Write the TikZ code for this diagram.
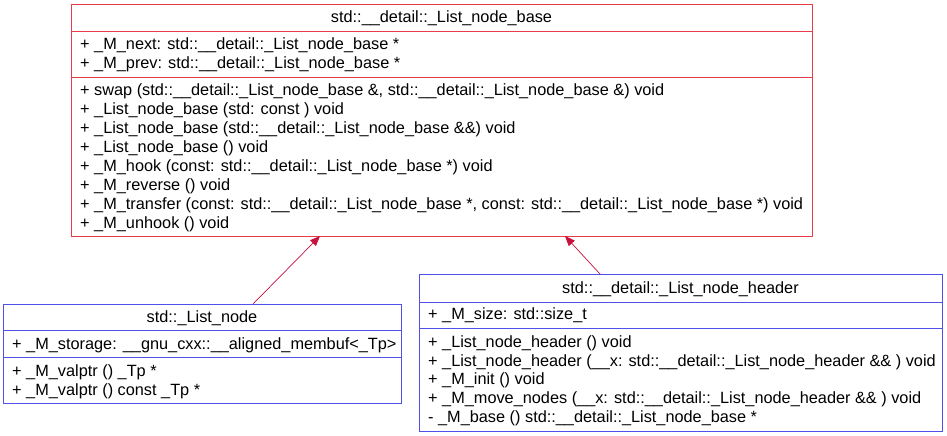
\documentclass[tikz,border=0pt]{standalone}
\usepackage{fontspec}
\setmainfont{Liberation Sans}
\usetikzlibrary{arrows.meta}
\definecolor{redline}{RGB}{232,60,72}
\definecolor{blueline}{RGB}{80,80,235}
\definecolor{arrowcol}{RGB}{200,16,60}
\tikzset{
  box/.style={draw, line width=1pt, anchor=north west, inner sep=0pt},
  redbox/.style={box, draw=redline},
  bluebox/.style={box, draw=blueline},
  txt/.style={anchor=base west, inner sep=0pt, font=\fontsize{16.3}{19}\selectfont},
  ttl/.style={anchor=base, inner sep=0pt, font=\fontsize{16.3}{19}\selectfont},
  inherit/.style={draw=arrowcol, line width=0.7pt, -{Triangle[length=10pt,width=8pt]}},
}
\begin{document}
\begin{tikzpicture}[x=1pt,y=-1pt]
\useasboundingbox (0,0) rectangle (947,436);
% top box
\node[redbox, minimum width=741pt, minimum height=232pt] (base) at (71,4) {};
\draw[redline, line width=1pt] (71,32) -- (812,32);
\draw[redline, line width=1pt] (71,77) -- (812,77);
\node[ttl] (bt) at (441.5,23) {std::\_\_detail::\_List\_node\_base};
\node[txt] (ba1) at (80,50) {+ \_M\_next: std::\_\_detail::\_List\_node\_base *};
\node[txt] (ba2) at (80,69) {+ \_M\_prev: std::\_\_detail::\_List\_node\_base *};
\node[txt] (bm1) at (80,95) {+ swap (std::\_\_detail::\_List\_node\_base \&, std::\_\_detail::\_List\_node\_base \&) void};
\node[txt] (bm2) at (80,114) {+ \_List\_node\_base (std: const ) void};
\node[txt] (bm3) at (80,133) {+ \_List\_node\_base (std::\_\_detail::\_List\_node\_base \&\&) void};
\node[txt] (bm4) at (80,152) {+ \_List\_node\_base () void};
\node[txt] (bm5) at (80,171) {+ \_M\_hook (const: std::\_\_detail::\_List\_node\_base *) void};
\node[txt] (bm6) at (80,190) {+ \_M\_reverse () void};
\node[txt] (bm7) at (80,209) {+ \_M\_transfer (const: std::\_\_detail::\_List\_node\_base *, const: std::\_\_detail::\_List\_node\_base *) void};
\node[txt] (bm8) at (80,228) {+ \_M\_unhook () void};
% left box
\node[bluebox, minimum width=398pt, minimum height=99pt] (node) at (3,304) {};
\draw[blueline, line width=1pt] (3,330) -- (401,330);
\draw[blueline, line width=1pt] (3,357) -- (401,357);
\node[ttl] (nt) at (202,322) {std::\_List\_node};
\node[txt] (na1) at (12,349) {+ \_M\_storage: \_\_gnu\_cxx::\_\_aligned\_membuf<\_Tp>};
\node[txt] (nm1) at (12,376) {+ \_M\_valptr () \_Tp *};
\node[txt] (nm2) at (12,395) {+ \_M\_valptr () const \_Tp *};
% right box
\node[bluebox, minimum width=523pt, minimum height=157pt] (hdr) at (419,274) {};
\draw[blueline, line width=1pt] (419,302) -- (942,302);
\draw[blueline, line width=1pt] (419,328) -- (942,328);
\node[ttl] (ht) at (680.5,293) {std::\_\_detail::\_List\_node\_header};
\node[txt] (ha1) at (428,319) {+ \_M\_size: std::size\_t};
\node[txt] (hm1) at (428,347) {+ \_List\_node\_header () void};
\node[txt] (hm2) at (428,366) {+ \_List\_node\_header (\_\_x: std::\_\_detail::\_List\_node\_header \&\& ) void};
\node[txt] (hm3) at (428,384.5) {+ \_M\_init () void};
\node[txt] (hm4) at (428,403) {+ \_M\_move\_nodes (\_\_x: std::\_\_detail::\_List\_node\_header \&\& ) void};
\node[txt] (hm5) at (428,422) {- \_M\_base () std::\_\_detail::\_List\_node\_base *};
% connectors
\coordinate (c1s) at (253,304);
\coordinate (c1e) at (320,236);
\coordinate (c2s) at (600,274);
\coordinate (c2e) at (565,236);
\draw[inherit] (c1s) -- (c1e);
\draw[inherit] (c2s) -- (c2e);
\end{tikzpicture}
\end{document}
